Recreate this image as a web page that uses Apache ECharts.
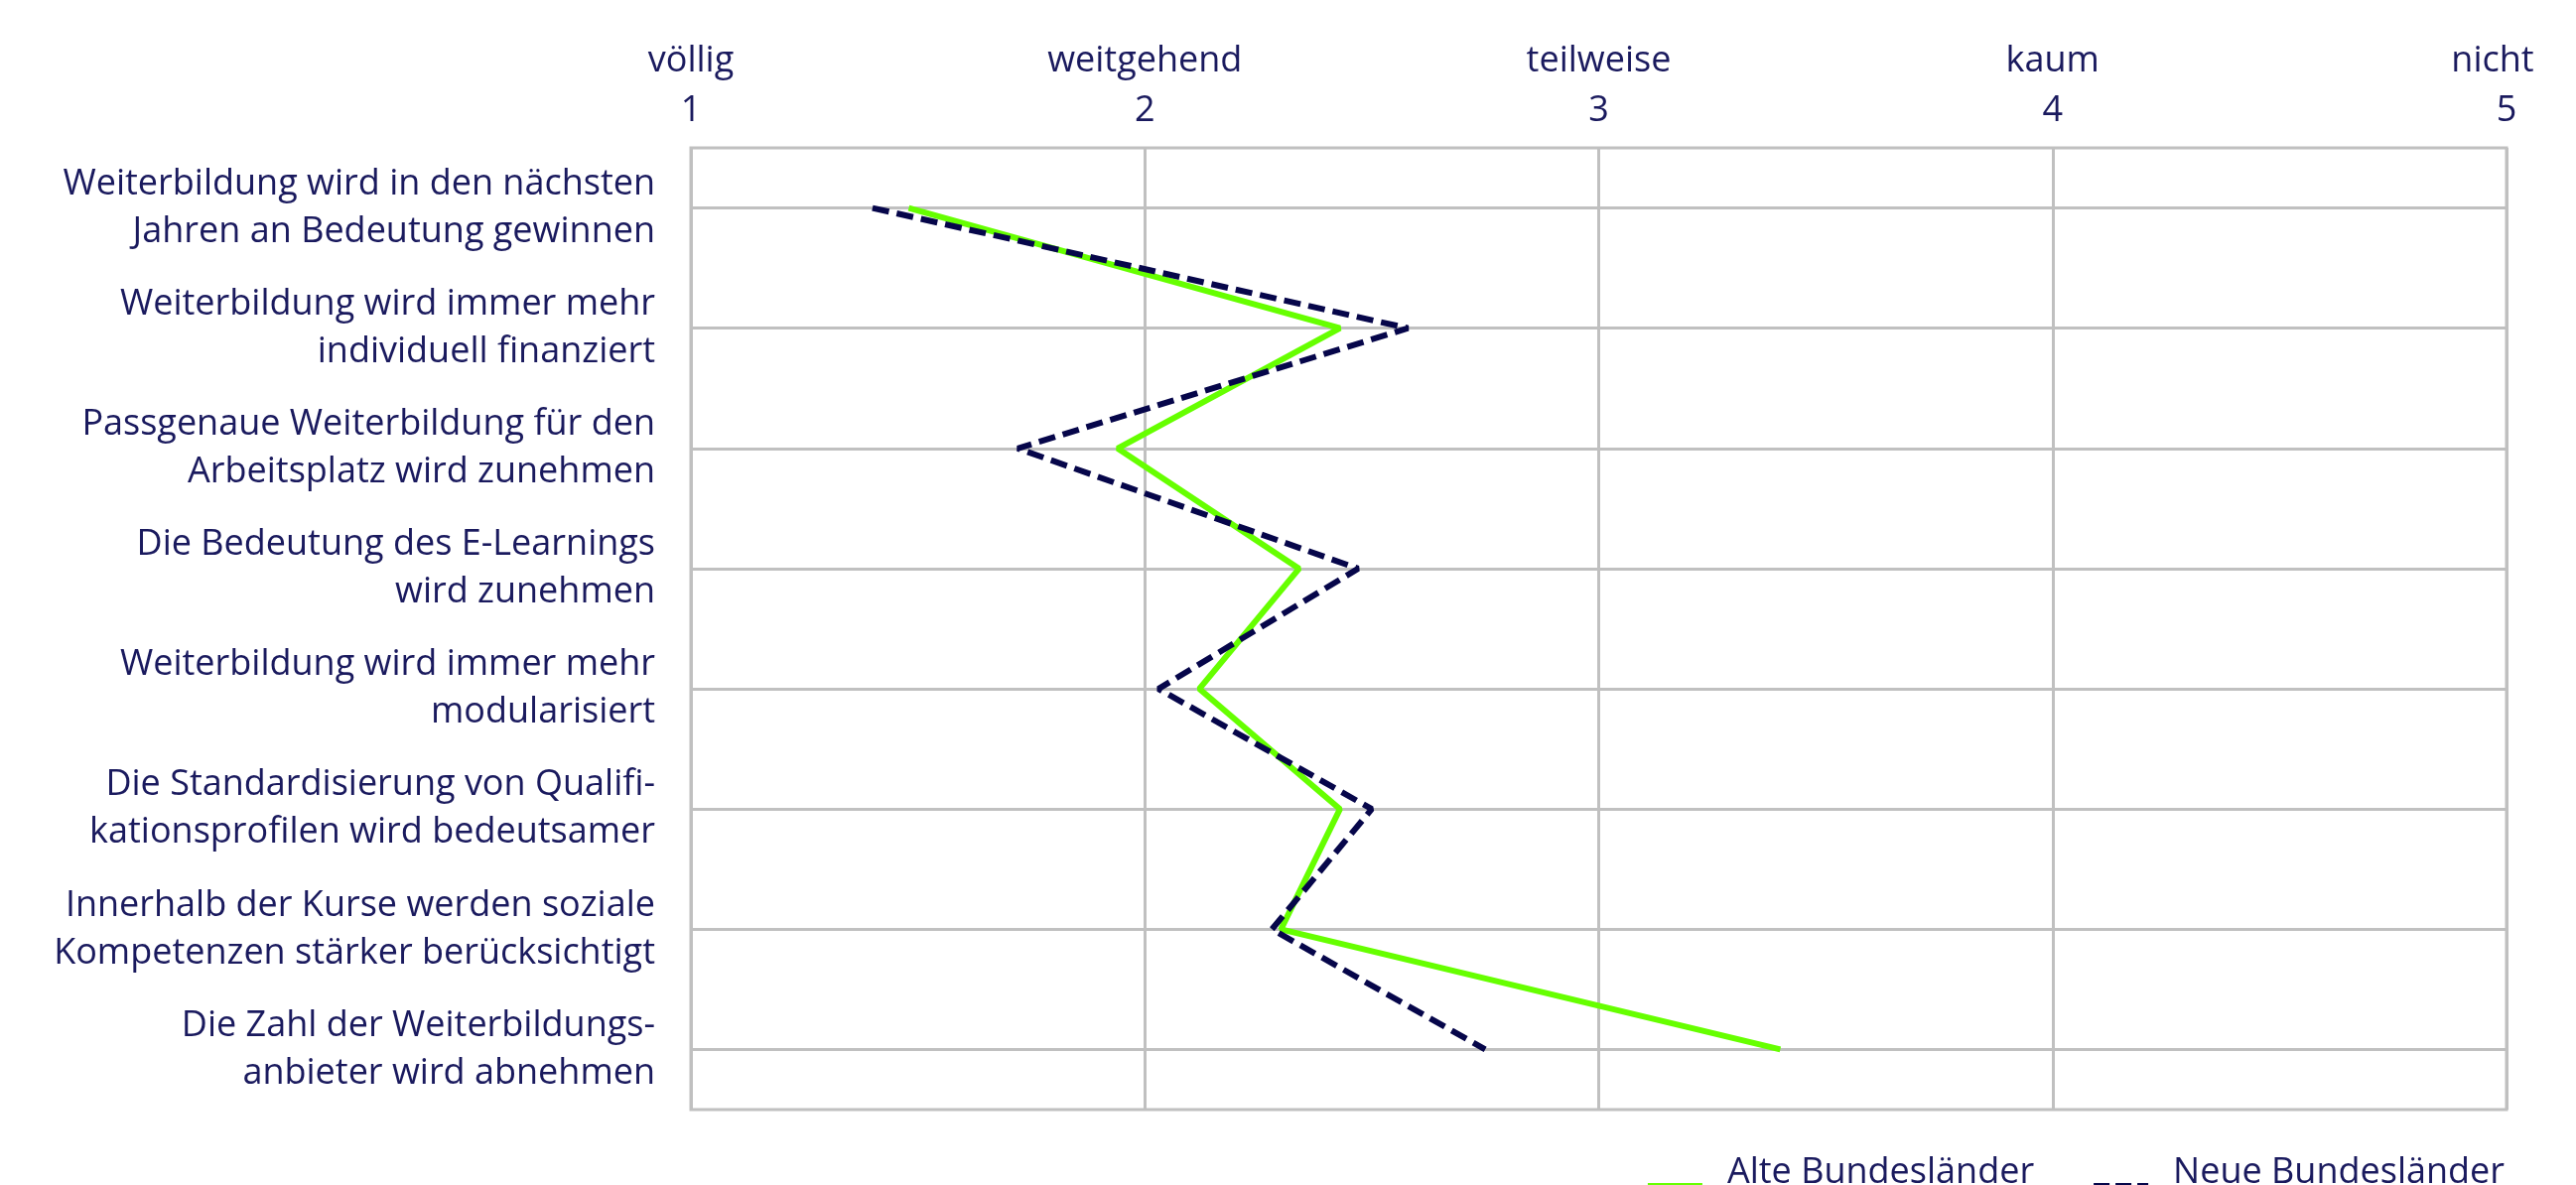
<!DOCTYPE html>
<html>
<head>
<meta charset="utf-8">
<script src="https://cdn.jsdelivr.net/npm/echarts@6/dist/echarts.min.js"></script>
<style>
  html, body { margin: 0; padding: 0; background: #ffffff; }
  #chart { width: 2595px; height: 1194px; }
</style>
</head>
<body>
<div id="chart"></div>
<script>
// ---- data ----
const categories = [
  "Weiterbildung wird in den nächsten\nJahren an Bedeutung gewinnen",
  "Weiterbildung wird immer mehr\nindividuell finanziert",
  "Passgenaue Weiterbildung für den\nArbeitsplatz wird zunehmen",
  "Die Bedeutung des E-Learnings\nwird zunehmen",
  "Weiterbildung wird immer mehr\nmodularisiert",
  "Die Standardisierung von Qualifi-\nkationsprofilen wird bedeutsamer",
  "Innerhalb der Kurse werden soziale\nKompetenzen stärker berücksichtigt",
  "Die Zahl der Weiterbildungs-\nanbieter wird abnehmen"
];
const alteValues = [1.48, 2.43, 1.94, 2.34, 2.12, 2.43, 2.30, 3.40];
const neueValues = [1.40, 2.58, 1.72, 2.47, 2.03, 2.50, 2.28, 2.75];
const tickWords = ["völlig", "weitgehend", "teilweise", "kaum", "nicht"];
const seriesNames = ["Alte Bundesländer", "Neue Bundesländer"];

// ---- styles ----
const TEXT = '#1a1a5e';
const GRID = '#c0c0c0';
const GREEN = '#66ff00';
const NAVY = '#06064a';
const FONT = 'Open Sans';
const FS = 36;

const chart = echarts.init(document.getElementById('chart'), null, { renderer: 'canvas' });

const gridLeft = 696, gridRight = 70, gridTop = 149, gridBottom = 76;
const gridWidth = 2595 - gridLeft - gridRight;

const option = {
  backgroundColor: '#ffffff',
  animation: false,
  textStyle: { fontFamily: FONT },
  grid: {
    left: gridLeft, right: gridRight, top: gridTop, bottom: gridBottom,
    show: true, borderColor: GRID, borderWidth: 3, backgroundColor: 'transparent'
  },
  legend: {
    right: 72, top: 1164, padding: 0,
    itemWidth: 55, itemHeight: 32, itemGap: 60,
    itemStyle: { borderWidth: 0 },
    textStyle: { fontFamily: FONT, fontSize: FS, color: TEXT, padding: [0, 0, 0, 20] },
    data: [
      { name: seriesNames[0], icon: 'path://M0,0h0.01v0.01h-0.01z M0,26h55v6h-55z' },
      { name: seriesNames[1], icon: 'path://M0,0h0.01v0.01h-0.01z M0,26h16v6h-16z M22,26h16v6h-16z M44,26h11v6h-11z' }
    ]
  },
  xAxis: {
    type: 'value', position: 'top', min: 1, max: 5, interval: 1,
    axisLine: { show: false }, axisTick: { show: false },
    splitLine: { show: true, lineStyle: { color: GRID, width: 3 } },
    axisLabel: {
      margin: 12,
      formatter: function (v) {
        const w = tickWords[Math.round(v) - 1];
        return (Math.round(v) === 5 ? '{wl|' : '{w|') + w + '}\n{n|' + v + '}';
      },
      rich: {
        w: { fontFamily: FONT, fontSize: FS, lineHeight: 50, color: TEXT },
        wl: { fontFamily: FONT, fontSize: FS, lineHeight: 50, color: TEXT, padding: [0, 28, 0, 0] },
        n: { fontFamily: FONT, fontSize: FS, lineHeight: 50, color: TEXT }
      }
    }
  },
  yAxis: {
    type: 'category', data: categories, inverse: true, boundaryGap: true,
    axisLine: { show: false, onZero: false },
    axisTick: { show: true, inside: true, alignWithLabel: true, length: gridWidth,
                lineStyle: { color: GRID, width: 3 } },
    splitLine: { show: false },
    axisLabel: { margin: 36, fontFamily: FONT, fontSize: FS, lineHeight: 48, color: TEXT, align: 'right' }
  },
  series: [
    {
      name: seriesNames[0], type: 'line', data: alteValues, symbol: 'none', z: 3,
      itemStyle: { color: GREEN },
      lineStyle: { color: GREEN, width: 6 }
    },
    {
      name: seriesNames[1], type: 'line', data: neueValues, symbol: 'none', z: 4,
      itemStyle: { color: NAVY },
      lineStyle: { color: NAVY, width: 6, type: [17, 8] }
    }
  ]
};
chart.setOption(option);
</script>
</body>
</html>
